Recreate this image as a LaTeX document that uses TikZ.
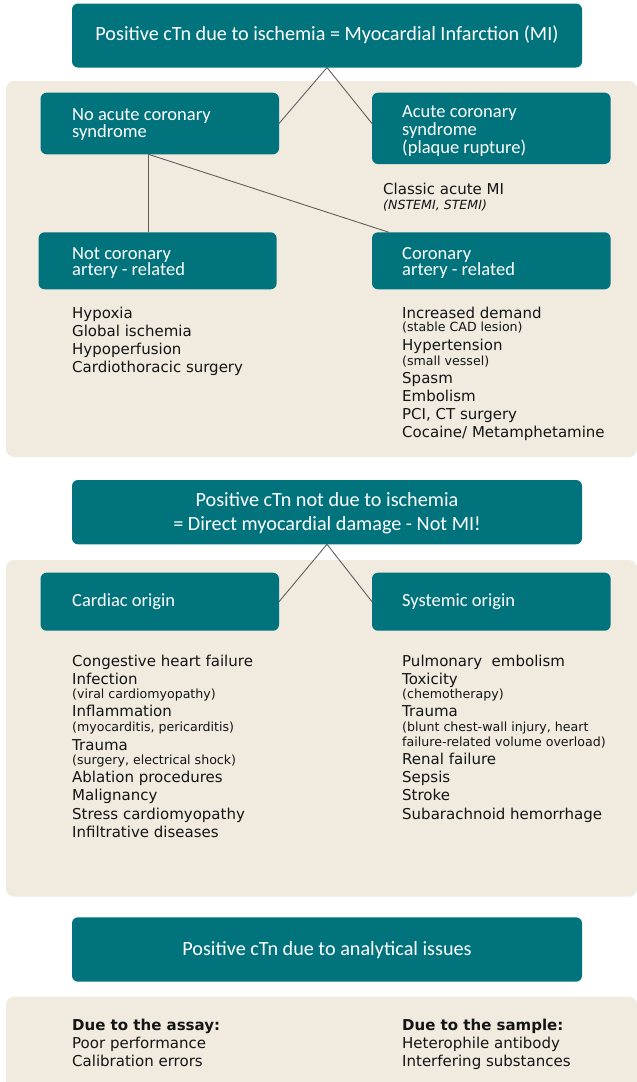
\documentclass[tikz,border=0pt]{standalone}
\usepackage{fontspec}
\setmainfont{DejaVu Sans}
\newfontfamily\boxfont{Carlito}
\usetikzlibrary{calc}
\definecolor{tealbox}{RGB}{0,115,125}
\definecolor{beigepanel}{RGB}{240,234,223}
\definecolor{linegray}{RGB}{95,95,95}
\definecolor{txt}{RGB}{20,20,20}
\tikzset{
  panel/.style={fill=beigepanel,draw=none,rounded corners=8pt,inner sep=0pt,outer sep=0pt,anchor=north west},
  tbox/.style={fill=tealbox,draw=none,rounded corners=6pt,inner sep=0pt,outer sep=0pt,anchor=north west},
  titletxt/.style={text=white,inner sep=0pt,anchor=base,font=\boxfont\fontsize{20.2}{24}\selectfont},
  boxtxt/.style={text=white,inner sep=0pt,anchor=base west,font=\boxfont\fontsize{18.5}{18}\selectfont},
  item/.style={text=txt,inner sep=0pt,anchor=base west,font=\fontsize{15}{18}\selectfont},
  itemb/.style={text=txt,inner sep=0pt,anchor=base west,font=\bfseries\fontsize{15}{18}\selectfont},
  note/.style={text=txt,inner sep=0pt,anchor=base west,font=\fontsize{12.6}{14}\selectfont},
  notei/.style={text=txt,inner sep=0pt,anchor=base west,font=\itshape\fontsize{12.6}{14}\selectfont},
  conn/.style={draw=linegray,line width=0.9pt}
}
\begin{document}
\begin{tikzpicture}[x=1pt,y=-1pt]
\useasboundingbox (0,0) rectangle (637,1082);
% panels
\node[panel,minimum width=631pt,minimum height=376pt] (p1) at (6,81) {};
\node[panel,minimum width=631pt,minimum height=336.7pt] (p2) at (6,560) {};
\node[panel,minimum width=631pt,minimum height=100pt] (p3) at (6,996.7) {};
% section 1
\node[tbox,minimum width=510pt,minimum height=64pt] (top) at (72,3.5) {};
\node[titletxt] (toptxt) at (327,40.5) {Positive cTn due to ischemia = Myocardial Infarction (MI)};
\node[tbox,minimum width=238.4pt,minimum height=61.6pt] (noacs) at (40.6,92.7) {};
\node[boxtxt] (noacs1) at (72,120) {No acute coronary};
\node[boxtxt] (noacs2) at (72,137.5) {syndrome};
\node[tbox,minimum width=238.6pt,minimum height=71.3pt] (acs) at (372,92.7) {};
\node[boxtxt] (acs1) at (402,117.3) {Acute coronary};
\node[boxtxt] (acs2) at (402,135) {syndrome};
\node[boxtxt] (acs3) at (402,153) {(plaque rupture)};
\node[tbox,minimum width=238pt,minimum height=57pt] (notcor) at (38.6,232.3) {};
\node[boxtxt] (notcor1) at (72,259) {Not coronary};
\node[boxtxt] (notcor2) at (72,275.7) {artery - related};
\node[tbox,minimum width=238.6pt,minimum height=57pt] (cor) at (372,232.3) {};
\node[boxtxt] (cor1) at (402,259) {Coronary};
\node[boxtxt] (cor2) at (402,275.7) {artery - related};
\draw[conn] (top.south) -- (noacs.east);
\draw[conn] (top.south) -- (acs.west |- noacs.east);
\draw[conn] ([xshift=-11.4pt]noacs.south) -- ([xshift=-11.4pt]noacs.south |- notcor.north);
\draw[conn] ([xshift=-11.4pt]noacs.south) -- ([xshift=17pt]cor.north west);
\node[item] (classic) at (383,194) {Classic acute MI};
\node[notei] (nstemi) at (383,209) {(NSTEMI, STEMI)};
\node[item] (a1) at (72,318.3) {Hypoxia};
\node[item] (a2) at (72,336.3) {Global ischemia};
\node[item] (a3) at (72,354.3) {Hypoperfusion};
\node[item] (a4) at (72,372.3) {Cardiothoracic surgery};
\node[item] (b1) at (402,318.3) {Increased demand};
\node[note] (b2) at (402,331.7) {(stable CAD lesion)};
\node[item] (b3) at (402,350) {Hypertension};
\node[note] (b4) at (402,365) {(small vessel)};
\node[item] (b5) at (402,383.3) {Spasm};
\node[item] (b6) at (402,401.7) {Embolism};
\node[item] (b7) at (402,419.5) {PCI, CT surgery};
\node[item] (b8) at (402,437.7) {Cocaine/ Metamphetamine};
% section 2
\node[tbox,minimum width=510pt,minimum height=64.3pt] (top2) at (72,480) {};
\node[titletxt] (top2a) at (327,506) {Positive cTn not due to ischemia};
\node[titletxt] (top2b) at (327,530) {= Direct myocardial damage - Not MI!};
\node[tbox,minimum width=238.4pt,minimum height=58pt] (cardiac) at (40.6,572.7) {};
\node[boxtxt] (cardiact) at (72,606) {Cardiac origin};
\node[tbox,minimum width=238.6pt,minimum height=58pt] (systemic) at (372,572.7) {};
\node[boxtxt] (systemict) at (402,606) {Systemic origin};
\draw[conn] (top2.south) -- (cardiac.east);
\draw[conn] (top2.south) -- (systemic.west);
\node[item] (c1) at (72,666) {Congestive heart failure};
\node[item] (c2) at (72,684) {Infection};
\node[note] (c3) at (72,698.3) {(viral cardiomyopathy)};
\node[item] (c4) at (72,716.7) {Inflammation};
\node[note] (c5) at (72,731) {(myocarditis, pericarditis)};
\node[item] (c6) at (72,750) {Trauma};
\node[note] (c7) at (72,764.3) {(surgery, electrical shock)};
\node[item] (c8) at (72,782.7) {Ablation procedures};
\node[item] (c9) at (72,800.7) {Malignancy};
\node[item] (c10) at (72,819) {Stress cardiomyopathy};
\node[item] (c11) at (72,837.3) {Infiltrative diseases};
\node[item] (d1) at (402,666) {Pulmonary\ \ embolism};
\node[item] (d2) at (402,684) {Toxicity};
\node[note] (d3) at (402,698.3) {(chemotherapy)};
\node[item] (d4) at (402,716.7) {Trauma};
\node[note] (d5) at (402,731) {(blunt chest-wall injury, heart};
\node[note] (d6) at (402,746.7) {failure-related volume overload)};
\node[item] (d7) at (402,764.3) {Renal failure};
\node[item] (d8) at (402,782.7) {Sepsis};
\node[item] (d9) at (402,800.7) {Stroke};
\node[item] (d10) at (402,819) {Subarachnoid hemorrhage};
% section 3
\node[tbox,minimum width=510pt,minimum height=64.4pt] (top3) at (72,917.3) {};
\node[titletxt] (top3t) at (327,955) {Positive cTn due to analytical issues};
\node[itemb] (e1) at (72,1030) {Due to the assay:};
\node[item] (e2) at (72,1048.3) {Poor performance};
\node[item] (e3) at (72,1066) {Calibration errors};
\node[itemb] (f1) at (402,1030) {Due to the sample:};
\node[item] (f2) at (402,1048.3) {Heterophile antibody};
\node[item] (f3) at (402,1066) {Interfering substances};
\end{tikzpicture}
\end{document}
